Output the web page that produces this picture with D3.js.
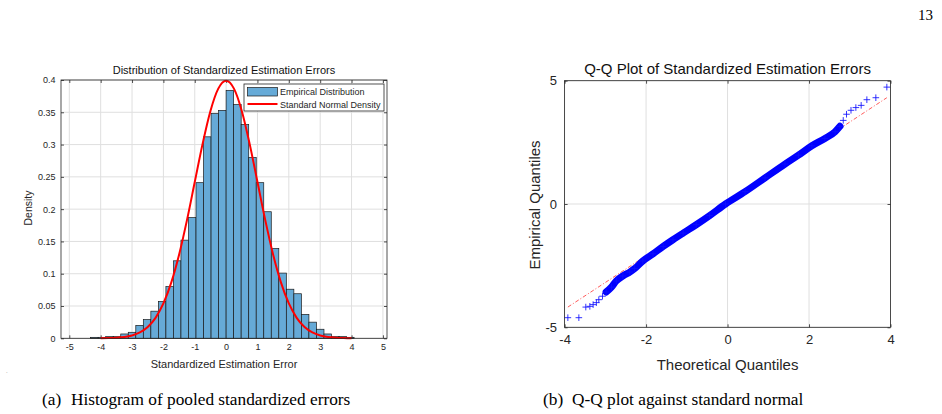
<!DOCTYPE html>
<html>
<head>
<meta charset="utf-8">
<script src="https://cdn.jsdelivr.net/npm/d3@7"></script>
<style>
  body { margin: 0; background: #fff; }
  svg { display: block; }
</style>
</head>
<body>
<script>
// histogram: bin edges and pdf-normalized heights
const histEdges = [-4.32, -4.08, -3.84, -3.60, -3.36, -3.12, -2.88, -2.64, -2.40, -2.16,
  -1.92, -1.68, -1.44, -1.20, -0.96, -0.72, -0.48, -0.24, 0, 0.24, 0.48, 0.72, 0.96,
  1.20, 1.44, 1.68, 1.92, 2.16, 2.40, 2.64, 2.88, 3.12, 3.36, 3.60, 3.84, 4.08];
const histDensity = [0.0015, 0.0015, 0.0026, 0.0026, 0.0067, 0.0093, 0.020, 0.029, 0.042,
  0.057, 0.080, 0.120, 0.152, 0.187, 0.241, 0.312, 0.348, 0.353, 0.384, 0.362, 0.331,
  0.280, 0.241, 0.196, 0.139, 0.101, 0.076, 0.069, 0.037, 0.025, 0.014, 0.0067, 0.0026,
  0.0026, 0.0015];

// red reference curve, read at 0.25 steps
const curveX = [-4, -3.75, -3.5, -3.25, -3, -2.75, -2.5, -2.25, -2, -1.75, -1.5, -1.25, -1,
  -0.75, -0.5, -0.25, 0, 0.25, 0.5, 0.75, 1, 1.25, 1.5, 1.75, 2, 2.25, 2.5, 2.75, 3, 3.25,
  3.5, 3.75, 4];
const curveY = [0.0001, 0.0004, 0.0009, 0.0020, 0.0044, 0.0091, 0.0175, 0.0317, 0.0540,
  0.0863, 0.1295, 0.1826, 0.2420, 0.3011, 0.3521, 0.3867, 0.3989, 0.3867, 0.3521, 0.3011,
  0.2420, 0.1826, 0.1295, 0.0863, 0.0540, 0.0317, 0.0175, 0.0091, 0.0044, 0.0020, 0.0009,
  0.0004, 0.0001];

const histXTicks = [-5, -4, -3, -2, -1, 0, 1, 2, 3, 4, 5];
const histYTicks = [0, 0.05, 0.1, 0.15, 0.2, 0.25, 0.3, 0.35, 0.4];
const legendLabels = ['Empirical Distribution', 'Standard Normal Density'];

// Q-Q plot points (theoretical, empirical)
const qqTheo = [-3.92, -3.65, -3.48, -3.38, -3.30, -3.22, -3.16, -3.07, -2.98, -2.85, -2.73,
  -2.57, -2.40, -2.28, -2.08, -1.83, -1.58, -1.34, -1.09, -0.77, -0.44, -0.05, 0.43, 0.92,
  1.41, 1.74, 2.07, 2.39, 2.64, 2.76, 2.84, 2.92, 3.03, 3.15, 3.28, 3.42, 3.64, 3.91];
const qqEmp = [-4.61, -4.61, -4.18, -4.15, -4.08, -4.00, -3.88, -3.74, -3.57, -3.37, -3.12,
  -2.92, -2.76, -2.62, -2.31, -2.02, -1.72, -1.45, -1.18, -0.84, -0.47, 0.0, 0.50, 1.06,
  1.62, 1.98, 2.36, 2.66, 2.93, 3.15, 3.39, 3.64, 3.80, 3.91, 4.00, 4.23, 4.31, 4.74];
const qqLineTheo = [-3.92, 3.91];
const qqLineEmp = [-4.18, 4.31];
const qqXTicks = [-4, -2, 0, 2, 4];
const qqYTicks = [-5, 0, 5];

const W = 942, H = 414;
const axisColor = '#262626';
const gridColor = '#dfdfdf';
const font = '"Liberation Sans", Arial, Helvetica, sans-serif';
const serif = '"Liberation Serif", "Times New Roman", serif';

const svg = d3.select('body').append('svg')
  .attr('width', W)
  .attr('height', H)
  .style('font-family', font);

svg.append('rect').attr('width', W).attr('height', H).attr('fill', '#fff');

// MATLAB-ish axes: grid, inward ticks on all four sides
function drawAxes(x, y, xTicks, yTicks, fmtX, fmtY, fontSize, tick) {
  const [x0, x1] = x.range();
  const [y1, y0] = y.range();
  const g = svg.append('g');

  g.append('g')
    .selectAll('line')
    .data(xTicks)
    .join('line')
    .attr('x1', d => x(d)).attr('x2', d => x(d))
    .attr('y1', y0).attr('y2', y1)
    .attr('stroke', gridColor).attr('stroke-width', 1);
  g.append('g')
    .selectAll('line')
    .data(yTicks)
    .join('line')
    .attr('x1', x0).attr('x2', x1)
    .attr('y1', d => y(d)).attr('y2', d => y(d))
    .attr('stroke', gridColor).attr('stroke-width', 1);

  const axes = [
    [d3.axisBottom(x).tickValues(xTicks).tickFormat(fmtX), `translate(0,${y1})`],
    [d3.axisTop(x).tickValues(xTicks).tickFormat(''), `translate(0,${y0})`],
    [d3.axisLeft(y).tickValues(yTicks).tickFormat(fmtY), `translate(${x0},0)`],
    [d3.axisRight(y).tickValues(yTicks).tickFormat(''), `translate(${x1},0)`]
  ];
  const front = svg.append('g');
  axes.forEach(([ax, tr]) => {
    const a = front.append('g')
      .attr('transform', tr)
      .call(ax.tickSizeInner(-tick).tickSizeOuter(0).tickPadding(fontSize * 0.5 + 1));
    a.select('.domain').remove();
    a.selectAll('line').attr('stroke', axisColor).attr('stroke-width', 0.8);
    a.selectAll('text')
      .attr('fill', axisColor)
      .style('font-family', font)
      .style('font-size', fontSize + 'px');
  });
  return { g, front };
}

function drawBox(x, y) {
  const [x0, x1] = x.range();
  const [y1, y0] = y.range();
  svg.append('rect')
    .attr('x', x0).attr('y', y0)
    .attr('width', x1 - x0).attr('height', y1 - y0)
    .attr('fill', 'none')
    .attr('stroke', axisColor)
    .attr('stroke-width', 0.8);
}

// ---------------- left: histogram ----------------
const hx = d3.scaleLinear().domain([-5.265, 5.13]).range([61, 387]);
const hy = d3.scaleLinear().domain([0, 0.4]).range([338.3, 80]);
const plain = d => String(d);

drawAxes(hx, hy, histXTicks, histYTicks, plain, d => String(+d.toFixed(2)), 9, 3);

const bins = histDensity.map((v, i) => ({ x0: histEdges[i], x1: histEdges[i + 1], v }));

svg.append('g')
  .selectAll('rect')
  .data(bins)
  .join('rect')
  .attr('x', d => hx(d.x0))
  .attr('y', d => hy(d.v))
  .attr('width', d => hx(d.x1) - hx(d.x0))
  .attr('height', d => hy(0) - hy(d.v))
  .attr('fill', '#66aad7')
  .attr('stroke', '#1a1a1a')
  .attr('stroke-width', 0.7);

const normLine = d3.line()
  .x(d => hx(d[0]))
  .y(d => hy(d[1]))
  .curve(d3.curveMonotoneX);

svg.append('path')
  .datum(curveX.map((v, i) => [v, curveY[i]]))
  .attr('d', normLine)
  .attr('fill', 'none')
  .attr('stroke', '#ff0000')
  .attr('stroke-width', 2);

drawBox(hx, hy);

svg.append('text')
  .attr('x', (hx.range()[0] + hx.range()[1]) / 2)
  .attr('y', 74)
  .attr('text-anchor', 'middle')
  .attr('fill', '#111')
  .style('font-size', '11px')
  .text('Distribution of Standardized Estimation Errors');

svg.append('text')
  .attr('x', (hx.range()[0] + hx.range()[1]) / 2)
  .attr('y', 368)
  .attr('text-anchor', 'middle')
  .attr('fill', axisColor)
  .style('font-size', '11px')
  .text('Standardized Estimation Error');

svg.append('text')
  .attr('transform', 'translate(32,208) rotate(-90)')
  .attr('text-anchor', 'middle')
  .attr('fill', axisColor)
  .style('font-size', '10.5px')
  .text('Density');

// legend
const leg = svg.append('g').attr('transform', 'translate(244,84)');
leg.append('rect')
  .attr('width', 140).attr('height', 27)
  .attr('fill', '#fff')
  .attr('stroke', axisColor)
  .attr('stroke-width', 0.8);
leg.append('rect')
  .attr('x', 3.5).attr('y', 3.5)
  .attr('width', 30).attr('height', 8.5)
  .attr('fill', '#66aad7')
  .attr('stroke', '#1a1a1a')
  .attr('stroke-width', 0.7);
leg.append('line')
  .attr('x1', 3.5).attr('x2', 33.5)
  .attr('y1', 20).attr('y2', 20)
  .attr('stroke', '#ff0000')
  .attr('stroke-width', 2);
leg.selectAll('text.lab')
  .data(legendLabels)
  .join('text')
  .attr('class', 'lab')
  .attr('x', 36)
  .attr('y', (d, i) => 11 + i * 12.5)
  .attr('fill', axisColor)
  .style('font-size', '9px')
  .text(d => d);

// ---------------- right: Q-Q plot ----------------
const qx = d3.scaleLinear().domain([-4, 4]).range([564.6, 890.5]);
const qy = d3.scaleLinear().domain([-5, 5]).range([327.3, 80.7]);

drawAxes(qx, qy, qqXTicks, qqYTicks, plain, plain, 13, 3);

svg.append('line')
  .attr('x1', qx(qqLineTheo[0])).attr('y1', qy(qqLineEmp[0]))
  .attr('x2', qx(qqLineTheo[1])).attr('y2', qy(qqLineEmp[1]))
  .attr('stroke', '#ff3030')
  .attr('stroke-width', 0.8)
  .attr('stroke-dasharray', '4,2,1,2');

const qq = qqTheo.map((t, i) => [t, qqEmp[i]]);

// the dense middle of the cloud reads as one thick band of markers
const band = qq.filter(d => d[0] >= -2.98 && d[0] <= 2.77);
svg.append('path')
  .datum(band)
  .attr('d', d3.line().x(d => qx(d[0])).y(d => qy(d[1])).curve(d3.curveMonotoneX))
  .attr('fill', 'none')
  .attr('stroke', '#0000ff')
  .attr('stroke-width', 7)
  .attr('stroke-linecap', 'round');

const ms = 3.3;
svg.append('g')
  .selectAll('path')
  .data(qq)
  .join('path')
  .attr('d', d => {
    const cx = qx(d[0]), cy = qy(d[1]);
    return `M${cx - ms},${cy}H${cx + ms}M${cx},${cy - ms}V${cy + ms}`;
  })
  .attr('stroke', '#1010ff')
  .attr('stroke-opacity', 0.85)
  .attr('stroke-width', 1);

drawBox(qx, qy);

svg.append('text')
  .attr('x', (qx.range()[0] + qx.range()[1]) / 2)
  .attr('y', 73.5)
  .attr('text-anchor', 'middle')
  .attr('fill', '#111')
  .style('font-size', '15px')
  .text('Q-Q Plot of Standardized Estimation Errors');

svg.append('text')
  .attr('x', (qx.range()[0] + qx.range()[1]) / 2)
  .attr('y', 369.5)
  .attr('text-anchor', 'middle')
  .attr('fill', axisColor)
  .style('font-size', '15px')
  .text('Theoretical Quantiles');

svg.append('text')
  .attr('transform', 'translate(540,205) rotate(-90)')
  .attr('text-anchor', 'middle')
  .attr('fill', axisColor)
  .style('font-size', '15px')
  .text('Empirical Quantiles');

// ---------------- page furniture ----------------
const captions = [
  { x: 42, tag: '(a)', text: 'Histogram of pooled standardized errors' },
  { x: 543, tag: '(b)', text: 'Q-Q plot against standard normal' }
];
captions.forEach(c => {
  const t = svg.append('text')
    .attr('y', 405)
    .attr('fill', '#000')
    .style('font-family', serif)
    .style('font-size', '17.3px');
  t.append('tspan').attr('x', c.x).text(c.tag);
  t.append('tspan').attr('x', c.x + 29).text(c.text);
});

svg.append('text')
  .attr('x', 933)
  .attr('y', 20)
  .attr('text-anchor', 'end')
  .attr('fill', '#000')
  .style('font-family', serif)
  .style('font-size', '15px')
  .text('13');

svg.append('text')
  .attr('x', 6)
  .attr('y', 373)
  .attr('fill', '#777')
  .style('font-size', '6px')
  .text('.');
</script>
</body>
</html>
